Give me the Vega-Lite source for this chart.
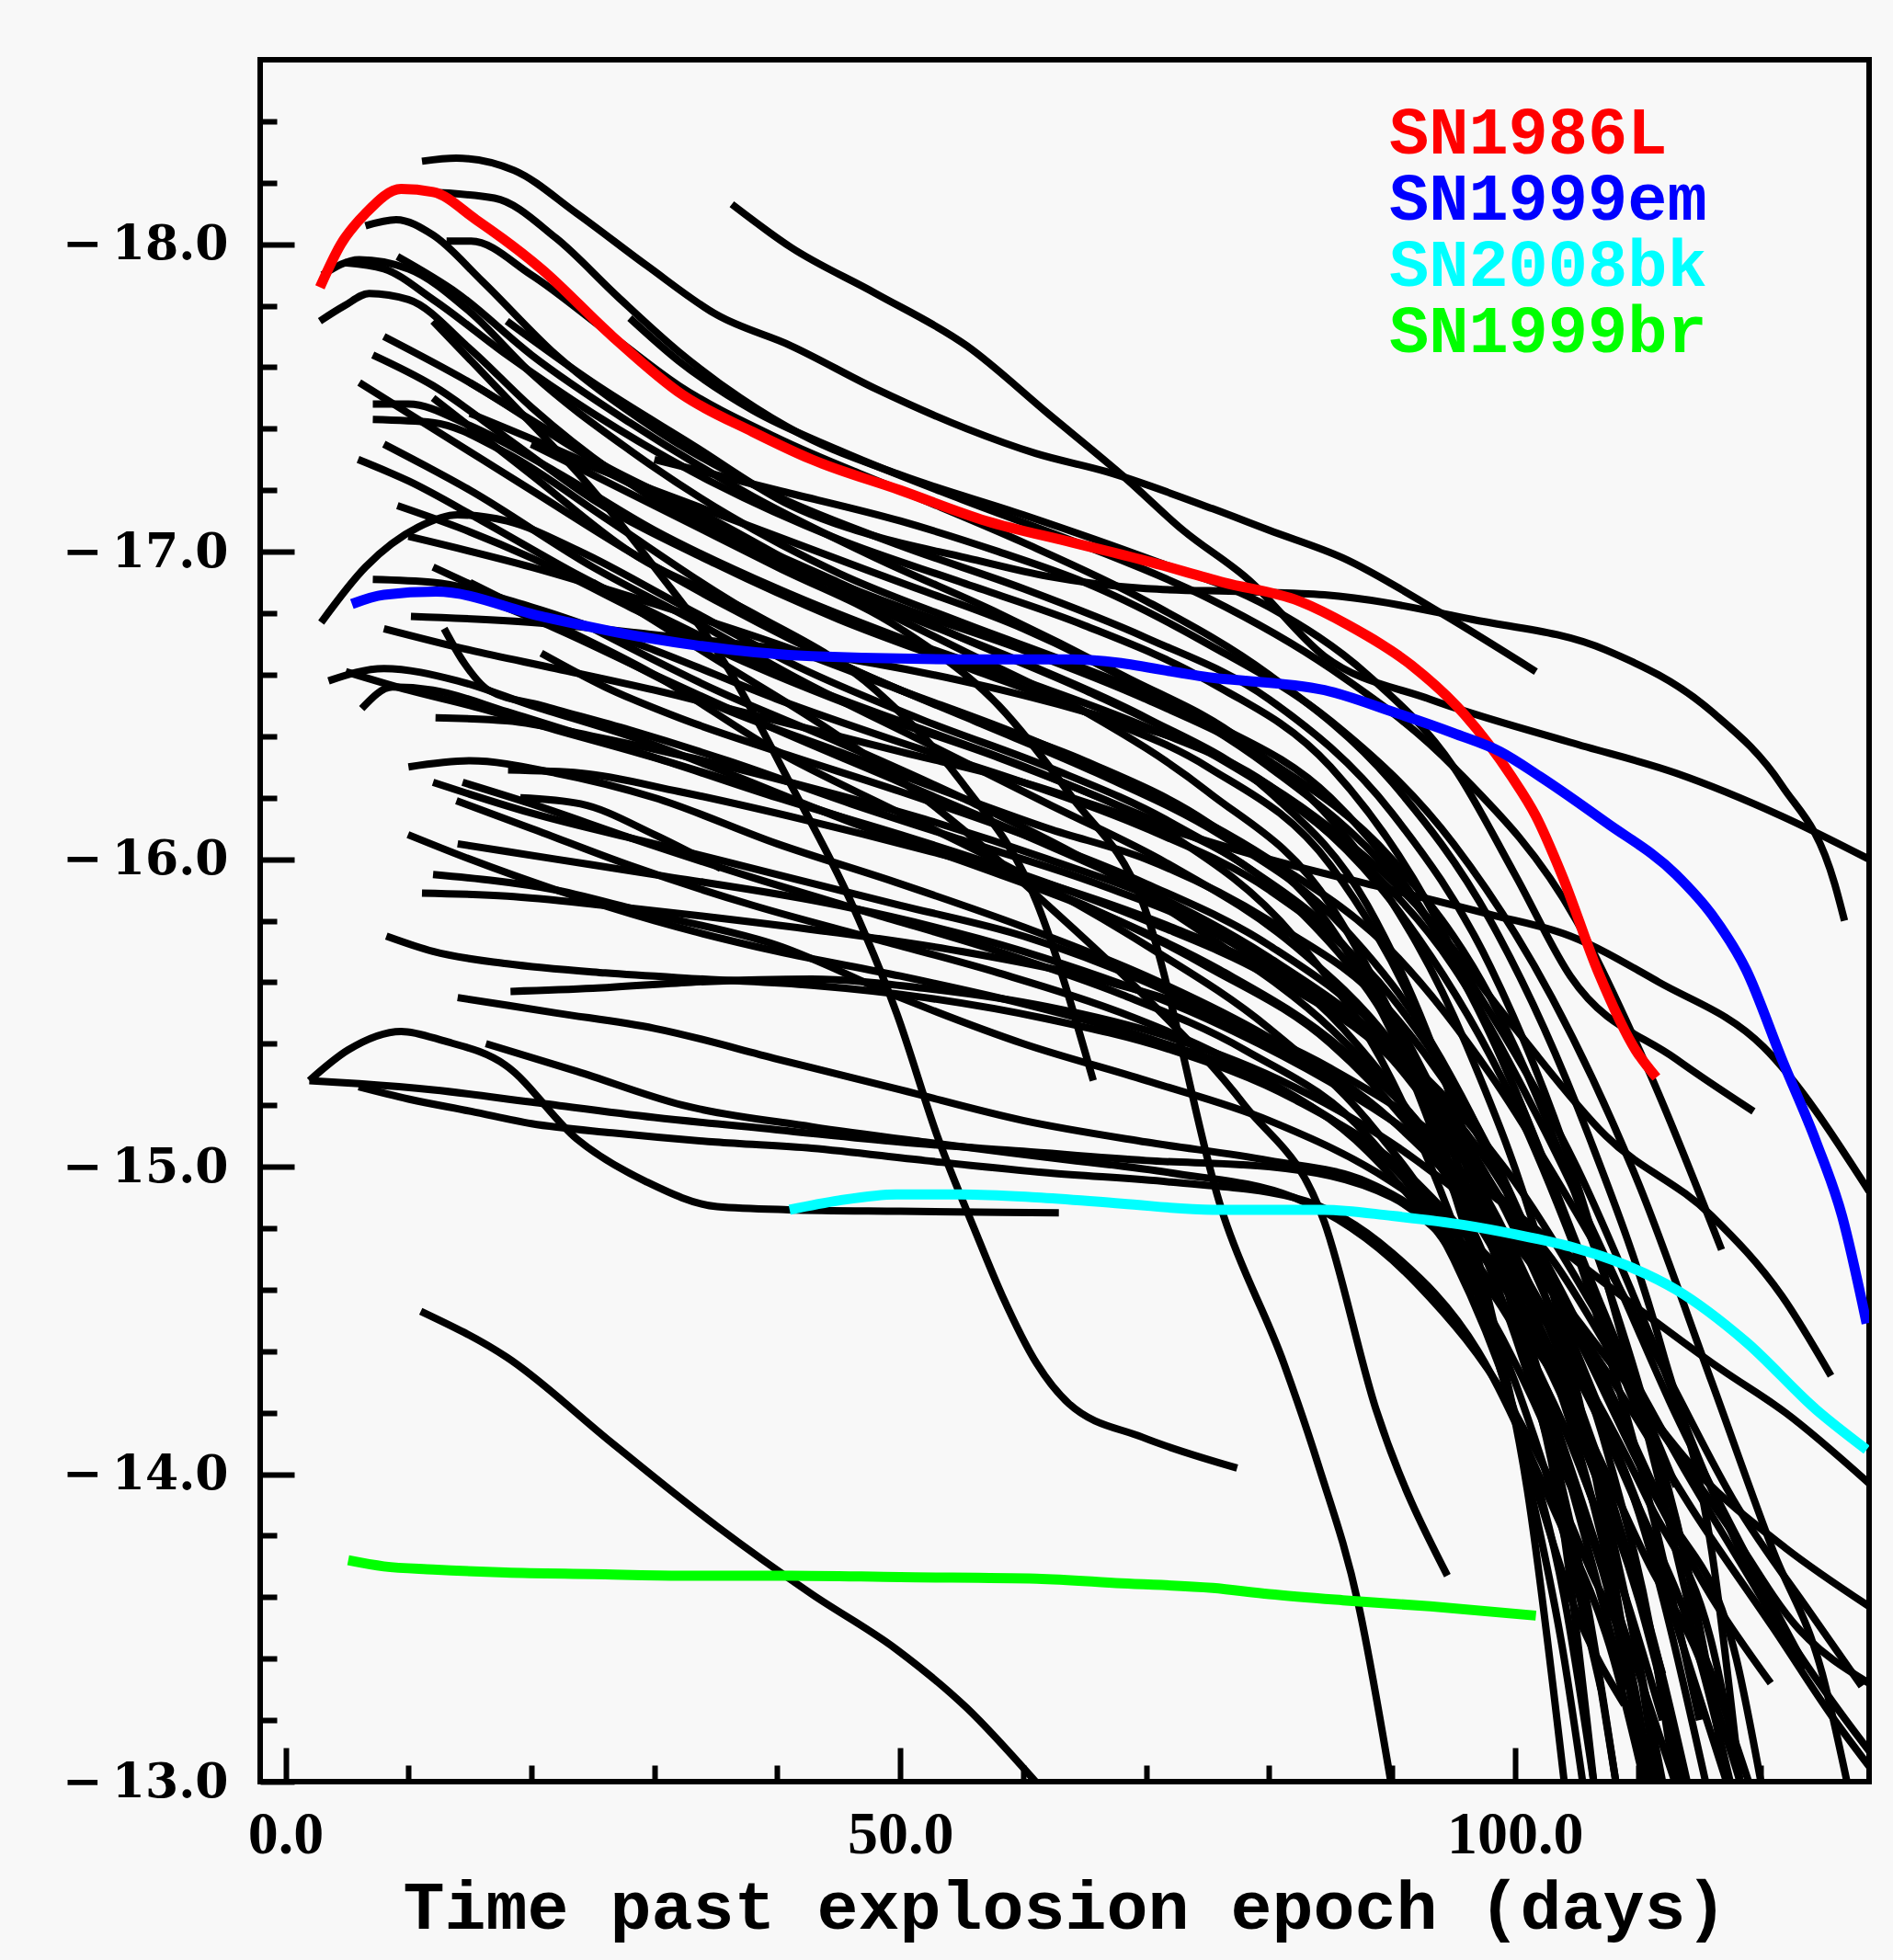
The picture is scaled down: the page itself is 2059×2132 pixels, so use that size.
{
"$schema": "https://vega.github.io/schema/vega-lite/v6.json",
"width": 1750, "height": 1873,
"autosize": {"type": "none"},
"padding": {"left": 283, "top": 65, "right": 26, "bottom": 194},
"background": "#f8f8f8",
"config": {"view": {"stroke": "#000", "strokeWidth": 6}, "axis": {"grid": false, "domain": false}},
"datasets": {
"black": [
{"id":"B1","t":11.1,"m":-18.27},{"id":"B1","t":13.9,"m":-18.28},{"id":"B1","t":18.6,"m":-18.24},{"id":"B1","t":23.7,"m":-18.10},{"id":"B1","t":29.4,"m":-17.93},{"id":"B1","t":35.1,"m":-17.77},{"id":"B1","t":41.1,"m":-17.67},{"id":"B1","t":48,"m":-17.53},{"id":"B1","t":55.4,"m":-17.40},{"id":"B1","t":61,"m":-17.32},{"id":"B1","t":66.8,"m":-17.26},{"id":"B1","t":75.4,"m":-17.14},{"id":"B1","t":80,"m":-17.07},{"id":"B1","t":86,"m":-16.98},{"id":"B1","t":94,"m":-16.80},{"id":"B1","t":101.7,"m":-16.61},
{"id":"B2","t":36.3,"m":-18.13},{"id":"B2","t":41.1,"m":-17.99},{"id":"B2","t":48,"m":-17.84},{"id":"B2","t":55.4,"m":-17.67},{"id":"B2","t":62,"m":-17.45},{"id":"B2","t":68.3,"m":-17.24},{"id":"B2","t":73,"m":-17.07},{"id":"B2","t":78.3,"m":-16.91},{"id":"B2","t":84.5,"m":-16.66},{"id":"B2","t":93.1,"m":-16.52},{"id":"B2","t":104.5,"m":-16.38},{"id":"B2","t":113.1,"m":-16.28},{"id":"B2","t":121.7,"m":-16.14},{"id":"B2","t":128.8,"m":-16.0},
{"id":"B3","t":18,"m":-17.75},{"id":"B3","t":25,"m":-17.55},{"id":"B3","t":33,"m":-17.35},{"id":"B3","t":41.1,"m":-17.15},{"id":"B3","t":48,"m":-17.05},{"id":"B3","t":55.4,"m":-16.98},{"id":"B3","t":62,"m":-16.92},{"id":"B3","t":70,"m":-16.88},{"id":"B3","t":78,"m":-16.87},{"id":"B3","t":84.5,"m":-16.86},{"id":"B3","t":96.5,"m":-16.78},{"id":"B3","t":107.4,"m":-16.68},{"id":"B3","t":116,"m":-16.48},{"id":"B3","t":121.7,"m":-16.24},{"id":"B3","t":126,"m":-15.92},{"id":"B3","t":126.8,"m":-15.8},
{"id":"U0","t":11.4,"m":-18.17},{"id":"U0","t":17,"m":-18.15},{"id":"U0","t":22,"m":-18.02},{"id":"U0","t":27,"m":-17.83},{"id":"U0","t":32,"m":-17.65},{"id":"U0","t":37,"m":-17.50},{"id":"U0","t":42,"m":-17.38},{"id":"U0","t":50,"m":-17.25},{"id":"U0","t":60,"m":-17.12},{"id":"U0","t":70,"m":-16.98},{"id":"U0","t":80,"m":-16.82},{"id":"U0","t":88,"m":-16.6},{"id":"U0","t":95,"m":-16.3},{"id":"U0","t":100,"m":-15.95},{"id":"U0","t":104.5,"m":-15.62},{"id":"U0","t":113.1,"m":-15.35},{"id":"U0","t":119.4,"m":-15.18},
{"id":"U1","t":2.8,"m":-17.75},{"id":"U1","t":4.8,"m":-17.80},{"id":"U1","t":6.8,"m":-17.84},{"id":"U1","t":10,"m":-17.82},{"id":"U1","t":15,"m":-17.66},{"id":"U1","t":20,"m":-17.47},{"id":"U1","t":30,"m":-17.17},{"id":"U1","t":40,"m":-16.97},{"id":"U1","t":50,"m":-16.80},{"id":"U1","t":60,"m":-16.64},{"id":"U1","t":70,"m":-16.46},{"id":"U1","t":80,"m":-16.22},{"id":"U1","t":88,"m":-15.85},{"id":"U1","t":95,"m":-15.2},{"id":"U1","t":100,"m":-14.5},{"id":"U1","t":104,"m":-13.8},{"id":"U1","t":106.4,"m":-13.0},
{"id":"U2","t":4.8,"m":-17.94},{"id":"U2","t":8,"m":-17.92},{"id":"U2","t":12,"m":-17.82},{"id":"U2","t":18,"m":-17.64},{"id":"U2","t":25,"m":-17.45},{"id":"U2","t":35,"m":-17.22},{"id":"U2","t":45,"m":-17.04},{"id":"U2","t":55,"m":-16.90},{"id":"U2","t":65,"m":-16.76},{"id":"U2","t":75,"m":-16.58},{"id":"U2","t":85,"m":-16.30},{"id":"U2","t":93,"m":-15.85},{"id":"U2","t":100,"m":-15.25},{"id":"U2","t":107,"m":-14.55},{"id":"U2","t":113.1,"m":-13.96},
{"id":"U3","t":6.5,"m":-18.06},{"id":"U3","t":9,"m":-18.08},{"id":"U3","t":12,"m":-18.03},{"id":"U3","t":16,"m":-17.88},{"id":"U3","t":22,"m":-17.64},{"id":"U3","t":30,"m":-17.40},{"id":"U3","t":40,"m":-17.18},{"id":"U3","t":50,"m":-17.02},{"id":"U3","t":60,"m":-16.88},{"id":"U3","t":70,"m":-16.72},{"id":"U3","t":80,"m":-16.52},{"id":"U3","t":90,"m":-16.15},{"id":"U3","t":98,"m":-15.65},{"id":"U3","t":105,"m":-14.95},{"id":"U3","t":110,"m":-14.25},{"id":"U3","t":114.5,"m":-13.51},
{"id":"U4","t":9.1,"m":-17.96},{"id":"U4","t":14,"m":-17.84},{"id":"U4","t":20,"m":-17.64},{"id":"U4","t":28,"m":-17.42},{"id":"U4","t":38,"m":-17.18},{"id":"U4","t":48,"m":-16.98},{"id":"U4","t":58,"m":-16.80},{"id":"U4","t":68,"m":-16.60},{"id":"U4","t":78,"m":-16.38},{"id":"U4","t":88,"m":-15.98},{"id":"U4","t":96,"m":-15.40},{"id":"U4","t":103,"m":-14.60},{"id":"U4","t":107,"m":-13.9},{"id":"U4","t":110.7,"m":-13.0},
{"id":"U5","t":13.1,"m":-18.01},{"id":"U5","t":15.1,"m":-18.01},{"id":"U5","t":20,"m":-17.90},{"id":"U5","t":26,"m":-17.72},{"id":"U5","t":32,"m":-17.54},{"id":"U5","t":40,"m":-17.37},{"id":"U5","t":50,"m":-17.20},{"id":"U5","t":60,"m":-17.03},{"id":"U5","t":70,"m":-16.84},{"id":"U5","t":80,"m":-16.60},{"id":"U5","t":90,"m":-16.25},{"id":"U5","t":98,"m":-15.80},{"id":"U5","t":106,"m":-15.10},{"id":"U5","t":112,"m":-14.40},{"id":"U5","t":116,"m":-13.75},{"id":"U5","t":118.3,"m":-13.0},
{"id":"U6","t":28,"m":-17.76},{"id":"U6","t":32,"m":-17.62},{"id":"U6","t":38,"m":-17.46},{"id":"U6","t":45,"m":-17.33},{"id":"U6","t":55,"m":-17.17},{"id":"U6","t":65,"m":-17.02},{"id":"U6","t":75,"m":-16.85},{"id":"U6","t":85,"m":-16.62},{"id":"U6","t":95,"m":-16.30},{"id":"U6","t":105,"m":-15.80},{"id":"U6","t":111,"m":-15.30},{"id":"U6","t":116.8,"m":-14.73},
{"id":"U7","t":7.1,"m":-17.64},{"id":"U7","t":12,"m":-17.54},{"id":"U7","t":18,"m":-17.37},{"id":"U7","t":25,"m":-17.17},{"id":"U7","t":35,"m":-16.96},{"id":"U7","t":45,"m":-16.78},{"id":"U7","t":55,"m":-16.63},{"id":"U7","t":65,"m":-16.48},{"id":"U7","t":75,"m":-16.30},{"id":"U7","t":85,"m":-15.98},{"id":"U7","t":92,"m":-15.50},{"id":"U7","t":98,"m":-14.85},{"id":"U7","t":103,"m":-14.10},{"id":"U7","t":106,"m":-13.55},{"id":"U7","t":108.2,"m":-13.0},
{"id":"U8","t":7.1,"m":-17.48},{"id":"U8","t":10,"m":-17.48},{"id":"U8","t":15,"m":-17.41},{"id":"U8","t":22,"m":-17.26},{"id":"U8","t":30,"m":-17.07},{"id":"U8","t":40,"m":-16.88},{"id":"U8","t":50,"m":-16.72},{"id":"U8","t":60,"m":-16.58},{"id":"U8","t":70,"m":-16.43},{"id":"U8","t":80,"m":-16.24},{"id":"U8","t":90,"m":-15.86},{"id":"U8","t":100,"m":-15.20},{"id":"U8","t":108,"m":-14.40},{"id":"U8","t":114,"m":-13.70},{"id":"U8","t":117.2,"m":-13.0},
{"id":"U9","t":7.1,"m":-17.43},{"id":"U9","t":12,"m":-17.42},{"id":"U9","t":18,"m":-17.32},{"id":"U9","t":26,"m":-17.11},{"id":"U9","t":35,"m":-16.87},{"id":"U9","t":45,"m":-16.64},{"id":"U9","t":55,"m":-16.47},{"id":"U9","t":65,"m":-16.32},{"id":"U9","t":75,"m":-16.12},{"id":"U9","t":85,"m":-15.78},{"id":"U9","t":92,"m":-15.25},{"id":"U9","t":97,"m":-14.65},{"id":"U9","t":101,"m":-13.95},{"id":"U9","t":104,"m":-13.0},
{"id":"U10","t":5.9,"m":-17.30},{"id":"U10","t":10,"m":-17.23},{"id":"U10","t":16,"m":-17.10},{"id":"U10","t":24,"m":-16.92},{"id":"U10","t":32,"m":-16.76},{"id":"U10","t":42,"m":-16.57},{"id":"U10","t":52,"m":-16.42},{"id":"U10","t":62,"m":-16.27},{"id":"U10","t":72,"m":-16.08},{"id":"U10","t":82,"m":-15.75},{"id":"U10","t":90,"m":-15.28},{"id":"U10","t":96,"m":-14.70},{"id":"U10","t":101,"m":-14.05},{"id":"U10","t":105,"m":-13.55},{"id":"U10","t":108.9,"m":-13.25},
{"id":"U11","t":9.1,"m":-17.15},{"id":"U11","t":14,"m":-17.08},{"id":"U11","t":20,"m":-16.98},{"id":"U11","t":28,"m":-16.82},{"id":"U11","t":38,"m":-16.63},{"id":"U11","t":48,"m":-16.47},{"id":"U11","t":58,"m":-16.33},{"id":"U11","t":68,"m":-16.17},{"id":"U11","t":78,"m":-15.98},{"id":"U11","t":88,"m":-15.62},{"id":"U11","t":95,"m":-15.10},{"id":"U11","t":101,"m":-14.45},{"id":"U11","t":106,"m":-13.75},{"id":"U11","t":109,"m":-13.3},
{"id":"U12","t":2.9,"m":-16.77},{"id":"U12","t":6.5,"m":-16.95},{"id":"U12","t":10.8,"m":-17.08},{"id":"U12","t":14,"m":-17.12},{"id":"U12","t":18,"m":-17.10},{"id":"U12","t":24,"m":-17.0},{"id":"U12","t":32,"m":-16.83},{"id":"U12","t":42,"m":-16.62},{"id":"U12","t":52,"m":-16.45},{"id":"U12","t":62,"m":-16.30},{"id":"U12","t":72,"m":-16.12},{"id":"U12","t":82,"m":-15.85},{"id":"U12","t":90,"m":-15.45},{"id":"U12","t":97,"m":-14.85},{"id":"U12","t":103,"m":-14.2},{"id":"U12","t":108,"m":-13.6},{"id":"U12","t":113,"m":-13.0},
{"id":"M1","t":7.1,"m":-16.91},{"id":"M1","t":12,"m":-16.90},{"id":"M1","t":20,"m":-16.82},{"id":"M1","t":30,"m":-16.68},{"id":"M1","t":40,"m":-16.52},{"id":"M1","t":50,"m":-16.38},{"id":"M1","t":60,"m":-16.25},{"id":"M1","t":70,"m":-16.10},{"id":"M1","t":80,"m":-15.90},{"id":"M1","t":90,"m":-15.55},{"id":"M1","t":98,"m":-15.05},{"id":"M1","t":105,"m":-14.4},{"id":"M1","t":111,"m":-13.75},{"id":"M1","t":115.5,"m":-13.0},
{"id":"M2","t":10.2,"m":-16.79},{"id":"M2","t":20,"m":-16.77},{"id":"M2","t":30,"m":-16.73},{"id":"M2","t":42.8,"m":-16.67},{"id":"M2","t":55,"m":-16.58},{"id":"M2","t":65,"m":-16.48},{"id":"M2","t":75,"m":-16.35},{"id":"M2","t":85,"m":-16.10},{"id":"M2","t":92,"m":-15.85},{"id":"M2","t":100,"m":-15.45},{"id":"M2","t":107.4,"m":-15.10},{"id":"M2","t":116,"m":-14.84},{"id":"M2","t":121.7,"m":-14.58},{"id":"M2","t":125.7,"m":-14.32},
{"id":"M3","t":12.9,"m":-16.75},{"id":"M3","t":14.5,"m":-16.64},{"id":"M3","t":16.5,"m":-16.55},{"id":"M3","t":20.8,"m":-16.50},{"id":"M3","t":28,"m":-16.42},{"id":"M3","t":36,"m":-16.32},{"id":"M3","t":46,"m":-16.18},{"id":"M3","t":56,"m":-16.05},{"id":"M3","t":66,"m":-15.92},{"id":"M3","t":76,"m":-15.75},{"id":"M3","t":86,"m":-15.45},{"id":"M3","t":94,"m":-15.0},{"id":"M3","t":100,"m":-14.45},{"id":"M3","t":104,"m":-13.9},{"id":"M3","t":107,"m":-13.3},{"id":"M3","t":108.2,"m":-13.0},
{"id":"M4","t":20.8,"m":-16.67},{"id":"M4","t":26,"m":-16.56},{"id":"M4","t":32,"m":-16.46},{"id":"M4","t":40,"m":-16.35},{"id":"M4","t":50,"m":-16.22},{"id":"M4","t":60,"m":-16.08},{"id":"M4","t":70,"m":-15.92},{"id":"M4","t":80,"m":-15.72},{"id":"M4","t":90,"m":-15.40},{"id":"M4","t":98,"m":-14.95},{"id":"M4","t":105,"m":-14.35},{"id":"M4","t":110,"m":-13.9},{"id":"M4","t":114,"m":-13.4},{"id":"M4","t":117.2,"m":-13.0},
{"id":"M5","t":4.9,"m":-16.61},{"id":"M5","t":10,"m":-16.55},{"id":"M5","t":15,"m":-16.50},{"id":"M5","t":22,"m":-16.42},{"id":"M5","t":30,"m":-16.33},{"id":"M5","t":40,"m":-16.20},{"id":"M5","t":50,"m":-16.08},{"id":"M5","t":60,"m":-15.95},{"id":"M5","t":70,"m":-15.80},{"id":"M5","t":80,"m":-15.62},{"id":"M5","t":90,"m":-15.35},{"id":"M5","t":98,"m":-14.95},{"id":"M5","t":105,"m":-14.45},{"id":"M5","t":111,"m":-13.96},{"id":"M5","t":116,"m":-13.6},{"id":"M5","t":120.8,"m":-13.32},
{"id":"M6","t":6.2,"m":-16.49},{"id":"M6","t":8.7,"m":-16.56},{"id":"M6","t":12,"m":-16.55},{"id":"M6","t":18,"m":-16.48},{"id":"M6","t":26,"m":-16.38},{"id":"M6","t":35,"m":-16.27},{"id":"M6","t":45,"m":-16.14},{"id":"M6","t":55,"m":-16.0},{"id":"M6","t":65,"m":-15.85},{"id":"M6","t":75,"m":-15.65},{"id":"M6","t":85,"m":-15.40},{"id":"M6","t":93,"m":-15.05},{"id":"M6","t":100,"m":-14.60},{"id":"M6","t":106,"m":-14.05},{"id":"M6","t":110,"m":-13.6},{"id":"M6","t":112,"m":-13.3},
{"id":"M7","t":12.2,"m":-16.46},{"id":"M7","t":18,"m":-16.45},{"id":"M7","t":25,"m":-16.40},{"id":"M7","t":33,"m":-16.33},{"id":"M7","t":42,"m":-16.24},{"id":"M7","t":52,"m":-16.13},{"id":"M7","t":62,"m":-16.00},{"id":"M7","t":72,"m":-15.85},{"id":"M7","t":82,"m":-15.62},{"id":"M7","t":90,"m":-15.35},{"id":"M7","t":97,"m":-14.95},{"id":"M7","t":103,"m":-14.45},{"id":"M7","t":108,"m":-13.9},{"id":"M7","t":112,"m":-13.3},{"id":"M7","t":113.5,"m":-13.0},
{"id":"M8","t":18.1,"m":-16.29},{"id":"M8","t":24,"m":-16.28},{"id":"M8","t":32,"m":-16.22},{"id":"M8","t":42,"m":-16.13},{"id":"M8","t":52,"m":-16.03},{"id":"M8","t":62,"m":-15.92},{"id":"M8","t":72,"m":-15.78},{"id":"M8","t":82,"m":-15.60},{"id":"M8","t":92,"m":-15.32},{"id":"M8","t":100,"m":-14.95},{"id":"M8","t":107,"m":-14.50},{"id":"M8","t":114,"m":-14.0},{"id":"M8","t":120,"m":-13.6},{"id":"M8","t":123.3,"m":-13.37},
{"id":"M9","t":14.4,"m":-16.25},{"id":"M9","t":20,"m":-16.18},{"id":"M9","t":28,"m":-16.07},{"id":"M9","t":38,"m":-15.94},{"id":"M9","t":48,"m":-15.82},{"id":"M9","t":58,"m":-15.70},{"id":"M9","t":68,"m":-15.56},{"id":"M9","t":78,"m":-15.38},{"id":"M9","t":88,"m":-15.10},{"id":"M9","t":95,"m":-14.70},{"id":"M9","t":100,"m":-14.20},{"id":"M9","t":104,"m":-13.60},{"id":"M9","t":106.4,"m":-13.0},
{"id":"M10","t":13.9,"m":-16.19},{"id":"M10","t":20,"m":-16.10},{"id":"M10","t":28,"m":-15.98},{"id":"M10","t":38,"m":-15.85},{"id":"M10","t":48,"m":-15.74},{"id":"M10","t":58,"m":-15.63},{"id":"M10","t":68,"m":-15.50},{"id":"M10","t":78,"m":-15.32},{"id":"M10","t":88,"m":-15.05},{"id":"M10","t":96,"m":-14.65},{"id":"M10","t":103,"m":-14.10},{"id":"M10","t":108,"m":-13.55},{"id":"M10","t":110.7,"m":-13.0},
{"id":"M11","t":19.1,"m":-16.20},{"id":"M11","t":24,"m":-16.18},{"id":"M11","t":30,"m":-16.08},{"id":"M11","t":35.4,"m":-15.97},
{"id":"M12","t":9.96,"m":-16.08},{"id":"M12","t":15,"m":-16.0},{"id":"M12","t":22,"m":-15.90},{"id":"M12","t":30,"m":-15.80},{"id":"M12","t":40,"m":-15.70},{"id":"M12","t":50,"m":-15.62},{"id":"M12","t":60,"m":-15.53},{"id":"M12","t":70,"m":-15.42},{"id":"M12","t":80,"m":-15.27},{"id":"M12","t":90,"m":-15.0},{"id":"M12","t":98,"m":-14.62},{"id":"M12","t":104,"m":-14.15},{"id":"M12","t":109,"m":-13.6},{"id":"M12","t":112,"m":-13.2},
{"id":"M13","t":11.1,"m":-15.89},{"id":"M13","t":18,"m":-15.88},{"id":"M13","t":26,"m":-15.85},{"id":"M13","t":35,"m":-15.81},{"id":"M13","t":45,"m":-15.76},{"id":"M13","t":55,"m":-15.70},{"id":"M13","t":65,"m":-15.62},{"id":"M13","t":75,"m":-15.50},{"id":"M13","t":85,"m":-15.32},{"id":"M13","t":95,"m":-15.05},{"id":"M13","t":103,"m":-14.70},{"id":"M13","t":110,"m":-14.25},{"id":"M13","t":117,"m":-13.85},{"id":"M13","t":123,"m":-13.5},{"id":"M13","t":128.8,"m":-13.32},
{"id":"M14","t":8.2,"m":-15.75},{"id":"M14","t":12,"m":-15.70},{"id":"M14","t":18,"m":-15.66},{"id":"M14","t":26,"m":-15.63},{"id":"M14","t":34,"m":-15.61},{"id":"M14","t":42.8,"m":-15.59},{"id":"M14","t":52,"m":-15.55},{"id":"M14","t":62,"m":-15.48},{"id":"M14","t":72,"m":-15.38},{"id":"M14","t":82,"m":-15.22},{"id":"M14","t":92,"m":-14.95},{"id":"M14","t":100,"m":-14.55},{"id":"M14","t":106,"m":-14.05},{"id":"M14","t":111,"m":-13.5},{"id":"M14","t":114,"m":-13.0},
{"id":"M15","t":18.3,"m":-15.57},{"id":"M15","t":25,"m":-15.58},{"id":"M15","t":33,"m":-15.60},{"id":"M15","t":42.8,"m":-15.61},{"id":"M15","t":52,"m":-15.58},{"id":"M15","t":62,"m":-15.52},{"id":"M15","t":72,"m":-15.42},{"id":"M15","t":82,"m":-15.26},{"id":"M15","t":92,"m":-15.02},{"id":"M15","t":100,"m":-14.75},{"id":"M15","t":108,"m":-14.35},{"id":"M15","t":115,"m":-14.0},{"id":"M15","t":122,"m":-13.76},{"id":"M15","t":128.8,"m":-13.57},
{"id":"L1","t":1.94,"m":-15.28},{"id":"L1","t":5.1,"m":-15.38},{"id":"L1","t":9.4,"m":-15.44},{"id":"L1","t":12.8,"m":-15.41},{"id":"L1","t":17.9,"m":-15.33},{"id":"L1","t":23.7,"m":-15.09},{"id":"L1","t":29.4,"m":-14.95},{"id":"L1","t":35.1,"m":-14.87},{"id":"L1","t":40.9,"m":-14.86},{"id":"L1","t":50,"m":-14.855},{"id":"L1","t":62.9,"m":-14.85},
{"id":"L2","t":1.94,"m":-15.28},{"id":"L2","t":6,"m":-15.27},{"id":"L2","t":12,"m":-15.25},{"id":"L2","t":20,"m":-15.21},{"id":"L2","t":30,"m":-15.16},{"id":"L2","t":40,"m":-15.12},{"id":"L2","t":50,"m":-15.08},{"id":"L2","t":60,"m":-15.05},{"id":"L2","t":70,"m":-15.02},{"id":"L2","t":80,"m":-15.0},{"id":"L2","t":90,"m":-14.9},{"id":"L2","t":98,"m":-14.6},{"id":"L2","t":105,"m":-14.2},{"id":"L2","t":111,"m":-13.7},{"id":"L2","t":115,"m":-13.4},{"id":"L2","t":118.3,"m":-13.0},
{"id":"L3","t":5.95,"m":-15.26},{"id":"L3","t":10,"m":-15.22},{"id":"L3","t":15.1,"m":-15.18},{"id":"L3","t":20,"m":-15.14},{"id":"L3","t":26.6,"m":-15.11},{"id":"L3","t":35,"m":-15.08},{"id":"L3","t":42.8,"m":-15.06},{"id":"L3","t":52,"m":-15.02},{"id":"L3","t":62,"m":-14.98},{"id":"L3","t":72,"m":-14.95},{"id":"L3","t":82,"m":-14.9},{"id":"L3","t":90,"m":-14.72},{"id":"L3","t":97,"m":-14.4},{"id":"L3","t":103,"m":-13.9},{"id":"L3","t":108,"m":-13.4},{"id":"L3","t":110.5,"m":-13.0},
{"id":"L4","t":16.3,"m":-15.40},{"id":"L4","t":23.7,"m":-15.31},{"id":"L4","t":32.3,"m":-15.20},{"id":"L4","t":42.8,"m":-15.13},{"id":"L4","t":52,"m":-15.08},{"id":"L4","t":62,"m":-15.03},{"id":"L4","t":72,"m":-14.98},{"id":"L4","t":82,"m":-14.9},{"id":"L4","t":92,"m":-14.62},{"id":"L4","t":100,"m":-14.2},{"id":"L4","t":106,"m":-13.7},{"id":"L4","t":110,"m":-13.25},{"id":"L4","t":111,"m":-13.0},
{"id":"L5","t":12,"m":-15.95},{"id":"L5","t":22,"m":-15.9},{"id":"L5","t":30,"m":-15.82},{"id":"L5","t":40,"m":-15.72},{"id":"L5","t":50,"m":-15.55},{"id":"L5","t":60,"m":-15.40},{"id":"L5","t":70,"m":-15.28},{"id":"L5","t":80,"m":-15.15},{"id":"L5","t":90,"m":-14.95},{"id":"L5","t":98,"m":-14.7},{"id":"L5","t":105,"m":-14.35},{"id":"L5","t":111,"m":-13.9},{"id":"L5","t":116,"m":-13.45},{"id":"L5","t":118.3,"m":-13.0},
{"id":"L6","t":14,"m":-15.55},{"id":"L6","t":22,"m":-15.5},{"id":"L6","t":30,"m":-15.45},{"id":"L6","t":40,"m":-15.35},{"id":"L6","t":50,"m":-15.25},{"id":"L6","t":60,"m":-15.15},{"id":"L6","t":70,"m":-15.08},{"id":"L6","t":80,"m":-15.02},{"id":"L6","t":88,"m":-14.95},{"id":"L6","t":95,"m":-14.75},{"id":"L6","t":101,"m":-14.4},{"id":"L6","t":106,"m":-13.95},{"id":"L6","t":110,"m":-13.4},{"id":"L6","t":111.5,"m":-13.0},
{"id":"S1","t":12,"m":-17.75},{"id":"S1","t":18,"m":-17.5},{"id":"S1","t":25,"m":-17.2},{"id":"S1","t":30,"m":-16.95},{"id":"S1","t":36,"m":-16.62},{"id":"S1","t":41,"m":-16.25},{"id":"S1","t":46,"m":-15.86},{"id":"S1","t":49.7,"m":-15.50},{"id":"S1","t":53.1,"m":-15.09},{"id":"S1","t":56,"m":-14.80},{"id":"S1","t":58.3,"m":-14.58},{"id":"S1","t":61.1,"m":-14.36},{"id":"S1","t":63.7,"m":-14.23},{"id":"S1","t":69.7,"m":-14.12},{"id":"S1","t":77.4,"m":-14.02},
{"id":"S2","t":20,"m":-17.35},{"id":"S2","t":30,"m":-17.15},{"id":"S2","t":40,"m":-16.95},{"id":"S2","t":50,"m":-16.75},{"id":"S2","t":58,"m":-16.5},{"id":"S2","t":64,"m":-16.2},{"id":"S2","t":69.7,"m":-15.86},{"id":"S2","t":76.3,"m":-14.84},{"id":"S2","t":81.2,"m":-14.36},{"id":"S2","t":84,"m":-14.03},{"id":"S2","t":87.3,"m":-13.57},{"id":"S2","t":89.9,"m":-13.0},
{"id":"S3","t":25,"m":-16.9},{"id":"S3","t":35,"m":-16.65},{"id":"S3","t":45,"m":-16.4},{"id":"S3","t":55,"m":-16.1},{"id":"S3","t":62,"m":-15.85},{"id":"S3","t":70,"m":-15.55},{"id":"S3","t":78,"m":-15.2},{"id":"S3","t":84.5,"m":-14.82},{"id":"S3","t":88.7,"m":-14.21},{"id":"S3","t":94.5,"m":-13.67},
{"id":"E1","t":12,"m":-17.5},{"id":"E1","t":20,"m":-17.25},{"id":"E1","t":28,"m":-17.0},{"id":"E1","t":38,"m":-16.8},{"id":"E1","t":48,"m":-16.55},{"id":"E1","t":55,"m":-16.25},{"id":"E1","t":61.1,"m":-15.86},{"id":"E1","t":65.7,"m":-15.28},
{"id":"R1","t":8,"m":-16.75},{"id":"R1","t":15,"m":-16.68},{"id":"R1","t":22,"m":-16.62},{"id":"R1","t":30,"m":-16.55},{"id":"R1","t":40,"m":-16.45},{"id":"R1","t":50,"m":-16.35},{"id":"R1","t":60,"m":-16.25},{"id":"R1","t":70,"m":-16.12},{"id":"R1","t":80,"m":-16.0},{"id":"R1","t":90,"m":-15.9},{"id":"R1","t":98,"m":-15.82},{"id":"R1","t":104.5,"m":-15.75},{"id":"R1","t":111.7,"m":-15.6},{"id":"R1","t":120.2,"m":-15.39},{"id":"R1","t":128.8,"m":-14.92},
{"id":"R2","t":14,"m":-16.05},{"id":"R2","t":22,"m":-16.0},{"id":"R2","t":30,"m":-15.95},{"id":"R2","t":45,"m":-15.85},{"id":"R2","t":60,"m":-15.7},{"id":"R2","t":75,"m":-15.48},{"id":"R2","t":90,"m":-15.15},{"id":"R2","t":100,"m":-14.85},{"id":"R2","t":108,"m":-14.6},{"id":"R2","t":116.8,"m":-14.34},{"id":"R2","t":122,"m":-14.2},{"id":"R2","t":128.8,"m":-13.97},
{"id":"D1","t":11,"m":-14.53},{"id":"D1","t":18,"m":-14.38},{"id":"D1","t":26.6,"m":-14.10},{"id":"D1","t":35.1,"m":-13.83},{"id":"D1","t":42.8,"m":-13.61},{"id":"D1","t":49.7,"m":-13.43},{"id":"D1","t":55.4,"m":-13.24},{"id":"D1","t":61,"m":-13.0},
{"id":"A1","t":15,"m":-17.55},{"id":"A1","t":22,"m":-17.38},{"id":"A1","t":30,"m":-17.18},{"id":"A1","t":40,"m":-16.98},{"id":"A1","t":50,"m":-16.82},{"id":"A1","t":60,"m":-16.68},{"id":"A1","t":70,"m":-16.52},{"id":"A1","t":80,"m":-16.32},{"id":"A1","t":90,"m":-16.0},{"id":"A1","t":98,"m":-15.55},{"id":"A1","t":105,"m":-14.9},{"id":"A1","t":110,"m":-14.3},{"id":"A1","t":114,"m":-13.7},{"id":"A1","t":116,"m":-13.3},
{"id":"A2","t":6,"m":-17.55},{"id":"A2","t":12,"m":-17.4},{"id":"A2","t":20,"m":-17.2},{"id":"A2","t":28,"m":-17.0},{"id":"A2","t":36,"m":-16.82},{"id":"A2","t":46,"m":-16.62},{"id":"A2","t":56,"m":-16.45},{"id":"A2","t":66,"m":-16.28},{"id":"A2","t":76,"m":-16.08},{"id":"A2","t":86,"m":-15.78},{"id":"A2","t":94,"m":-15.35},{"id":"A2","t":100,"m":-14.85},{"id":"A2","t":105,"m":-14.25},{"id":"A2","t":109,"m":-13.6},{"id":"A2","t":112,"m":-13.0},
{"id":"A3","t":8,"m":-17.35},{"id":"A3","t":15,"m":-17.2},{"id":"A3","t":25,"m":-16.95},{"id":"A3","t":33,"m":-16.78},{"id":"A3","t":42,"m":-16.58},{"id":"A3","t":52,"m":-16.38},{"id":"A3","t":62,"m":-16.18},{"id":"A3","t":72,"m":-15.98},{"id":"A3","t":82,"m":-15.72},{"id":"A3","t":90,"m":-15.40},{"id":"A3","t":97,"m":-14.95},{"id":"A3","t":103,"m":-14.35},{"id":"A3","t":107,"m":-13.8},{"id":"A3","t":110,"m":-13.2},
{"id":"A4","t":16,"m":-16.85},{"id":"A4","t":22,"m":-16.75},{"id":"A4","t":30,"m":-16.6},{"id":"A4","t":40,"m":-16.42},{"id":"A4","t":50,"m":-16.25},{"id":"A4","t":60,"m":-16.08},{"id":"A4","t":70,"m":-15.90},{"id":"A4","t":80,"m":-15.68},{"id":"A4","t":90,"m":-15.38},{"id":"A4","t":98,"m":-15.0},{"id":"A4","t":105,"m":-14.5},{"id":"A4","t":112,"m":-13.9},{"id":"A4","t":118,"m":-13.4},{"id":"A4","t":120,"m":-13.0},
{"id":"A5","t":3,"m":-17.9},{"id":"A5","t":6,"m":-17.95},{"id":"A5","t":10,"m":-17.92},{"id":"A5","t":15,"m":-17.78},{"id":"A5","t":20,"m":-17.58},{"id":"A5","t":28,"m":-17.33},{"id":"A5","t":36,"m":-17.12},{"id":"A5","t":45,"m":-16.93},{"id":"A5","t":55,"m":-16.77},{"id":"A5","t":65,"m":-16.62},{"id":"A5","t":75,"m":-16.45},{"id":"A5","t":85,"m":-16.2},{"id":"A5","t":93,"m":-15.8},{"id":"A5","t":100,"m":-15.25},{"id":"A5","t":106,"m":-14.6},{"id":"A5","t":111,"m":-13.9},{"id":"A5","t":115,"m":-13.2},
{"id":"A6","t":8,"m":-17.7},{"id":"A6","t":15,"m":-17.55},{"id":"A6","t":25,"m":-17.3},{"id":"A6","t":35,"m":-17.1},{"id":"A6","t":45,"m":-16.88},{"id":"A6","t":55,"m":-16.68},{"id":"A6","t":65,"m":-16.48},{"id":"A6","t":75,"m":-16.22},{"id":"A6","t":85,"m":-15.85},{"id":"A6","t":92,"m":-15.3},{"id":"A6","t":97,"m":-14.7},{"id":"A6","t":101,"m":-14.0},{"id":"A6","t":104,"m":-13.4},{"id":"A6","t":105.5,"m":-13.0},
{"id":"A7","t":12,"m":-16.95},{"id":"A7","t":20,"m":-16.8},{"id":"A7","t":30,"m":-16.6},{"id":"A7","t":40,"m":-16.35},{"id":"A7","t":50,"m":-16.15},{"id":"A7","t":60,"m":-15.95},{"id":"A7","t":70,"m":-15.72},{"id":"A7","t":80,"m":-15.45},{"id":"A7","t":88,"m":-15.15},{"id":"A7","t":95,"m":-14.75},{"id":"A7","t":100,"m":-14.3},{"id":"A7","t":104,"m":-13.8},{"id":"A7","t":107,"m":-13.3},
{"id":"A8","t":15,"m":-17.45},{"id":"A8","t":25,"m":-17.28},{"id":"A8","t":35,"m":-17.08},{"id":"A8","t":45,"m":-16.9},{"id":"A8","t":55,"m":-16.72},{"id":"A8","t":65,"m":-16.55},{"id":"A8","t":75,"m":-16.35},{"id":"A8","t":85,"m":-16.08},{"id":"A8","t":95,"m":-15.65},{"id":"A8","t":102,"m":-15.15},{"id":"A8","t":108,"m":-14.65},{"id":"A8","t":113,"m":-14.2},{"id":"A8","t":118,"m":-13.8},{"id":"A8","t":123.7,"m":-13.37},
{"id":"A9","t":10,"m":-17.05},{"id":"A9","t":20,"m":-16.95},{"id":"A9","t":30,"m":-16.83},{"id":"A9","t":40,"m":-16.7},{"id":"A9","t":50,"m":-16.55},{"id":"A9","t":60,"m":-16.4},{"id":"A9","t":70,"m":-16.22},{"id":"A9","t":80,"m":-16.0},{"id":"A9","t":90,"m":-15.7},{"id":"A9","t":98,"m":-15.3},{"id":"A9","t":105,"m":-14.85},{"id":"A9","t":112,"m":-14.35},{"id":"A9","t":118,"m":-13.9},{"id":"A9","t":124,"m":-13.55},{"id":"A9","t":128.2,"m":-13.31},
{"id":"A10","t":25,"m":-16.75},{"id":"A10","t":35,"m":-16.55},{"id":"A10","t":45,"m":-16.38},{"id":"A10","t":55,"m":-16.2},{"id":"A10","t":65,"m":-16.0},{"id":"A10","t":75,"m":-15.75},{"id":"A10","t":85,"m":-15.45},{"id":"A10","t":93,"m":-15.1},{"id":"A10","t":100,"m":-14.7},{"id":"A10","t":106,"m":-14.25},{"id":"A10","t":111,"m":-13.8},{"id":"A10","t":116,"m":-13.35},{"id":"A10","t":119,"m":-13.0},
{"id":"A11","t":20,"m":-17.35},{"id":"A11","t":30,"m":-17.2},{"id":"A11","t":40,"m":-17.05},{"id":"A11","t":50,"m":-16.9},{"id":"A11","t":60,"m":-16.75},{"id":"A11","t":70,"m":-16.55},{"id":"A11","t":80,"m":-16.3},{"id":"A11","t":90,"m":-15.95},{"id":"A11","t":98,"m":-15.5},{"id":"A11","t":105,"m":-15.0},{"id":"A11","t":111,"m":-14.45},{"id":"A11","t":116,"m":-13.95},{"id":"A11","t":121,"m":-13.55},{"id":"A11","t":126,"m":-13.25},{"id":"A11","t":128.8,"m":-13.1},
{"id":"A12","t":10,"m":-16.3},{"id":"A12","t":15,"m":-16.32},{"id":"A12","t":22,"m":-16.28},{"id":"A12","t":30,"m":-16.2},{"id":"A12","t":40,"m":-16.05},{"id":"A12","t":50,"m":-15.92},{"id":"A12","t":60,"m":-15.78},{"id":"A12","t":70,"m":-15.62},{"id":"A12","t":80,"m":-15.42},{"id":"A12","t":90,"m":-15.15},{"id":"A12","t":98,"m":-14.8},{"id":"A12","t":104,"m":-14.4},{"id":"A12","t":110,"m":-13.9},{"id":"A12","t":115,"m":-13.4},{"id":"A12","t":117.5,"m":-13.0},
{"id":"A13","t":12,"m":-16.25},{"id":"A13","t":20,"m":-16.15},{"id":"A13","t":30,"m":-16.05},{"id":"A13","t":40,"m":-15.95},{"id":"A13","t":50,"m":-15.85},{"id":"A13","t":60,"m":-15.75},{"id":"A13","t":70,"m":-15.6},{"id":"A13","t":80,"m":-15.4},{"id":"A13","t":90,"m":-15.15},{"id":"A13","t":100,"m":-14.75},{"id":"A13","t":108,"m":-14.3},{"id":"A13","t":115,"m":-13.85},{"id":"A13","t":121,"m":-13.5},{"id":"A13","t":126,"m":-13.2},{"id":"A13","t":128.8,"m":-13.05},
{"id":"A14","t":30,"m":-17.3},{"id":"A14","t":40,"m":-17.2},{"id":"A14","t":50,"m":-17.1},{"id":"A14","t":58,"m":-17.0},{"id":"A14","t":65,"m":-16.9},{"id":"A14","t":75,"m":-16.7},{"id":"A14","t":85,"m":-16.45},{"id":"A14","t":95,"m":-16.05},{"id":"A14","t":103,"m":-15.55},{"id":"A14","t":110,"m":-14.95},{"id":"A14","t":116,"m":-14.3},{"id":"A14","t":121,"m":-13.75},{"id":"A14","t":125,"m":-13.35},{"id":"A14","t":127,"m":-13.0},
{"id":"A15","t":15,"m":-16.9},{"id":"A15","t":25,"m":-16.7},{"id":"A15","t":35,"m":-16.5},{"id":"A15","t":45,"m":-16.35},{"id":"A15","t":55,"m":-16.2},{"id":"A15","t":62,"m":-16.1},{"id":"A15","t":70,"m":-16.0},{"id":"A15","t":80,"m":-15.8},{"id":"A15","t":90,"m":-15.5},{"id":"A15","t":97,"m":-15.1},{"id":"A15","t":103,"m":-14.6},{"id":"A15","t":108,"m":-14.0},{"id":"A15","t":111,"m":-13.5},{"id":"A15","t":113,"m":-13.0},
{"id":"A16","t":3.5,"m":-16.58},{"id":"A16","t":8,"m":-16.62},{"id":"A16","t":14,"m":-16.58},{"id":"A16","t":20,"m":-16.5},{"id":"A16","t":28,"m":-16.40},{"id":"A16","t":36,"m":-16.28},{"id":"A16","t":46,"m":-16.12},{"id":"A16","t":56,"m":-15.98},{"id":"A16","t":66,"m":-15.83},{"id":"A16","t":76,"m":-15.64},{"id":"A16","t":86,"m":-15.38},{"id":"A16","t":94,"m":-15.05},{"id":"A16","t":100,"m":-14.65},{"id":"A16","t":105,"m":-14.2},{"id":"A16","t":109,"m":-13.75},{"id":"A16","t":112,"m":-13.35}
],
"sn": [
{"sn":"SN1986L","t":2.8,"m":-17.86},{"sn":"SN1986L","t":4.5,"m":-18.0},{"sn":"SN1986L","t":6.5,"m":-18.1},{"sn":"SN1986L","t":9.4,"m":-18.18},{"sn":"SN1986L","t":12,"m":-18.17},{"sn":"SN1986L","t":15.5,"m":-18.08},{"sn":"SN1986L","t":20.8,"m":-17.92},{"sn":"SN1986L","t":26.6,"m":-17.70},{"sn":"SN1986L","t":32.3,"m":-17.51},{"sn":"SN1986L","t":38,"m":-17.39},{"sn":"SN1986L","t":42.8,"m":-17.30},{"sn":"SN1986L","t":50,"m":-17.2},{"sn":"SN1986L","t":57,"m":-17.1},{"sn":"SN1986L","t":64,"m":-17.03},{"sn":"SN1986L","t":70,"m":-16.97},{"sn":"SN1986L","t":76.3,"m":-16.9},{"sn":"SN1986L","t":82.4,"m":-16.84},{"sn":"SN1986L","t":86.5,"m":-16.76},{"sn":"SN1986L","t":91.6,"m":-16.63},{"sn":"SN1986L","t":95.9,"m":-16.47},{"sn":"SN1986L","t":99.7,"m":-16.27},{"sn":"SN1986L","t":101.7,"m":-16.14},{"sn":"SN1986L","t":103.8,"m":-15.95},{"sn":"SN1986L","t":106.8,"m":-15.63},{"sn":"SN1986L","t":109.8,"m":-15.38},{"sn":"SN1986L","t":111.5,"m":-15.29},
{"sn":"SN1999em","t":5.4,"m":-16.83},{"sn":"SN1999em","t":8,"m":-16.86},{"sn":"SN1999em","t":12.25,"m":-16.87},{"sn":"SN1999em","t":20.8,"m":-16.79},{"sn":"SN1999em","t":29.4,"m":-16.72},{"sn":"SN1999em","t":42.8,"m":-16.66},{"sn":"SN1999em","t":55,"m":-16.65},{"sn":"SN1999em","t":64,"m":-16.65},{"sn":"SN1999em","t":75.4,"m":-16.59},{"sn":"SN1999em","t":84.5,"m":-16.55},{"sn":"SN1999em","t":90,"m":-16.48},{"sn":"SN1999em","t":95,"m":-16.41},{"sn":"SN1999em","t":98.8,"m":-16.35},{"sn":"SN1999em","t":102,"m":-16.27},{"sn":"SN1999em","t":107.4,"m":-16.12},{"sn":"SN1999em","t":113.1,"m":-15.95},{"sn":"SN1999em","t":116,"m":-15.82},{"sn":"SN1999em","t":118.8,"m":-15.64},{"sn":"SN1999em","t":121.7,"m":-15.35},{"sn":"SN1999em","t":124.5,"m":-15.08},{"sn":"SN1999em","t":126.6,"m":-14.84},{"sn":"SN1999em","t":128.6,"m":-14.49},
{"sn":"SN2008bk","t":41,"m":-14.86},{"sn":"SN2008bk","t":45,"m":-14.89},{"sn":"SN2008bk","t":49.7,"m":-14.91},{"sn":"SN2008bk","t":55,"m":-14.91},{"sn":"SN2008bk","t":61.1,"m":-14.90},{"sn":"SN2008bk","t":68,"m":-14.88},{"sn":"SN2008bk","t":75.4,"m":-14.86},{"sn":"SN2008bk","t":84.5,"m":-14.86},{"sn":"SN2008bk","t":90,"m":-14.84},{"sn":"SN2008bk","t":95.9,"m":-14.81},{"sn":"SN2008bk","t":100,"m":-14.78},{"sn":"SN2008bk","t":104.5,"m":-14.74},{"sn":"SN2008bk","t":109,"m":-14.68},{"sn":"SN2008bk","t":113.1,"m":-14.60},{"sn":"SN2008bk","t":118.8,"m":-14.43},{"sn":"SN2008bk","t":124.5,"m":-14.21},{"sn":"SN2008bk","t":128.6,"m":-14.08},
{"sn":"SN1999br","t":5.1,"m":-13.72},{"sn":"SN1999br","t":8,"m":-13.70},{"sn":"SN1999br","t":12,"m":-13.69},{"sn":"SN1999br","t":17.9,"m":-13.68},{"sn":"SN1999br","t":25,"m":-13.675},{"sn":"SN1999br","t":32.3,"m":-13.67},{"sn":"SN1999br","t":41.1,"m":-13.67},{"sn":"SN1999br","t":50,"m":-13.665},{"sn":"SN1999br","t":61.1,"m":-13.66},{"sn":"SN1999br","t":68,"m":-13.645},{"sn":"SN1999br","t":75.4,"m":-13.63},{"sn":"SN1999br","t":80,"m":-13.61},{"sn":"SN1999br","t":86,"m":-13.59},{"sn":"SN1999br","t":93.1,"m":-13.57},{"sn":"SN1999br","t":101.7,"m":-13.54}
]
},
"resolve": {"axis": {"x": "independent", "y": "independent"}},
"layer": [
{
"data": {"name": "black"},
"mark": {"type": "line", "color": "#000000", "strokeWidth": 8, "interpolate": "monotone", "clip": true},
"encoding": {
"x": {"field": "t", "type": "quantitative", "scale": {"domain": [-2.06, 128.8], "nice": false, "zero": false},
"axis": {"orient": "bottom", "values": [0, 50, 100], "format": ".1f", "ticks": true, "tickSize": -37, "tickWidth": 6, "tickColor": "#000000", "labelPadding": 62, "labelFont": "Liberation Serif", "labelFontWeight": "bold", "labelFontSize": 66, "labelColor": "#000000", "labelFlush": false, "labelOverlap": false, "title": "Time past explosion epoch (days)", "titleFont": "Liberation Mono", "titleFontSize": 75, "titleFontWeight": "bold", "titleColor": "#000000", "titlePadding": 10}},
"y": {"field": "m", "type": "quantitative", "scale": {"domain": [-18.6, -13], "reverse": true, "nice": false, "zero": false},
"axis": {"orient": "left", "values": [-18, -17, -16, -15, -14, -13], "labelExpr": "'\u2212\u2009' + format(-datum.value, '.1f')", "ticks": true, "tickSize": -37, "tickWidth": 6, "tickColor": "#000000", "labelPadding": 72, "labelLimit": 600, "labelFont": "DejaVu Serif", "labelFontWeight": "bold", "labelFontSize": 52, "labelColor": "#000000", "labelFlush": false, "labelOverlap": false, "title": null}},
"detail": {"field": "id", "type": "nominal"}
}
},
{
"data": {"name": "sn"},
"mark": {"type": "line", "strokeWidth": 11, "interpolate": "monotone", "clip": true},
"encoding": {
"x": {"field": "t", "type": "quantitative",
"axis": {"orient": "bottom", "values": [10, 20, 30, 40, 60, 70, 80, 90, 110, 120], "labels": false, "ticks": true, "tickSize": -18, "tickWidth": 6, "tickColor": "#000000", "title": null}},
"y": {"field": "m", "type": "quantitative",
"axis": {"orient": "left", "values": [-18.4, -18.2, -17.8, -17.6, -17.4, -17.2, -16.8, -16.6, -16.4, -16.2, -15.8, -15.6, -15.4, -15.2, -14.8, -14.6, -14.4, -14.2, -13.8, -13.6, -13.4, -13.2], "labels": false, "ticks": true, "tickSize": -18, "tickWidth": 6, "tickColor": "#000000", "title": null}},
"color": {"field": "sn", "type": "nominal",
"scale": {"domain": ["SN1986L", "SN1999em", "SN2008bk", "SN1999br"], "range": ["#ff0000", "#0000ff", "#00ffff", "#00ff00"]},
"legend": {"orient": "none", "legendX": 1156, "legendY": 44, "title": null, "padding": 0, "symbolSize": 0, "symbolOpacity": 0, "symbolStrokeWidth": 0, "labelOffset": 0, "rowPadding": -14, "labelLimit": 1000, "labelFont": "Liberation Mono", "labelFontWeight": "bold", "labelFontSize": 72, "labelBaseline": "middle", "labelColor": {"expr": "scale('color', datum.value)"}}}
}
}
]
}
